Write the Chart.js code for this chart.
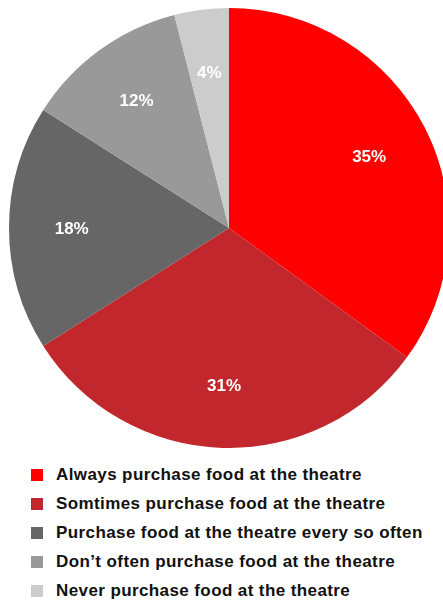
<!DOCTYPE html>
<html>
<head>
<meta charset="utf-8">
<script src="https://cdn.jsdelivr.net/npm/chart.js@4"></script>
<style>
html,body{margin:0;padding:0;background:#fff;width:443px;height:600px;overflow:hidden;}
#wrap{position:absolute;left:0;top:0;width:458px;height:456px;}
#legend{position:absolute;left:31px;top:460px;margin:0;padding:0;list-style:none;font-family:"Liberation Sans",Arial,sans-serif;font-weight:bold;font-size:17px;letter-spacing:0.4px;color:#111;}
#legend li{height:29px;display:flex;align-items:center;white-space:nowrap;}
#legend span.box{display:inline-block;width:12px;height:12px;margin-right:13px;}
</style>
</head>
<body>
<div id="wrap"><canvas id="c"></canvas></div>
<ul id="legend"></ul>
<script>
const categories = [
  "Always purchase food at the theatre",
  "Somtimes purchase food at the theatre",
  "Purchase food at the theatre every so often",
  "Don\u2019t often purchase food at the theatre",
  "Never purchase food at the theatre"
];
const shares = [35, 31, 18, 12, 4];
const colors = ["#ff0000", "#c1272d", "#666666", "#999999", "#cccccc"];

const labelPlugin = {
  id: 'sliceLabels',
  afterDatasetsDraw(chart) {
    const ctx = chart.ctx;
    const meta = chart.getDatasetMeta(0);
    ctx.save();
    ctx.font = 'bold 17px "Liberation Sans", Arial, sans-serif';
    ctx.fillStyle = '#ffffff';
    ctx.textAlign = 'center';
    ctx.textBaseline = 'middle';
    meta.data.forEach((arc, i) => {
      const p = arc.getProps(['x','y','startAngle','endAngle','outerRadius'], true);
      const mid = (p.startAngle + p.endAngle) / 2;
      const r = p.outerRadius * 0.715;
      ctx.fillText(shares[i] + '%', p.x + Math.cos(mid) * r, p.y + Math.sin(mid) * r + 1);
    });
    ctx.restore();
  }
};

const chart = new Chart(document.getElementById('c'), {
  type: 'pie',
  data: {
    labels: categories,
    datasets: [{
      data: shares,
      backgroundColor: colors,
      borderWidth: 0
    }]
  },
  options: {
    responsive: true,
    maintainAspectRatio: false,
    animation: false,
    layout: { padding: 8 },
    plugins: {
      legend: { display: false },
      tooltip: { enabled: false }
    }
  },
  plugins: [labelPlugin]
});

const ul = document.getElementById('legend');
categories.forEach((c, i) => {
  const li = document.createElement('li');
  const b = document.createElement('span');
  b.className = 'box';
  b.style.background = colors[i];
  li.appendChild(b);
  li.appendChild(document.createTextNode(c));
  ul.appendChild(li);
});
</script>
</body>
</html>
